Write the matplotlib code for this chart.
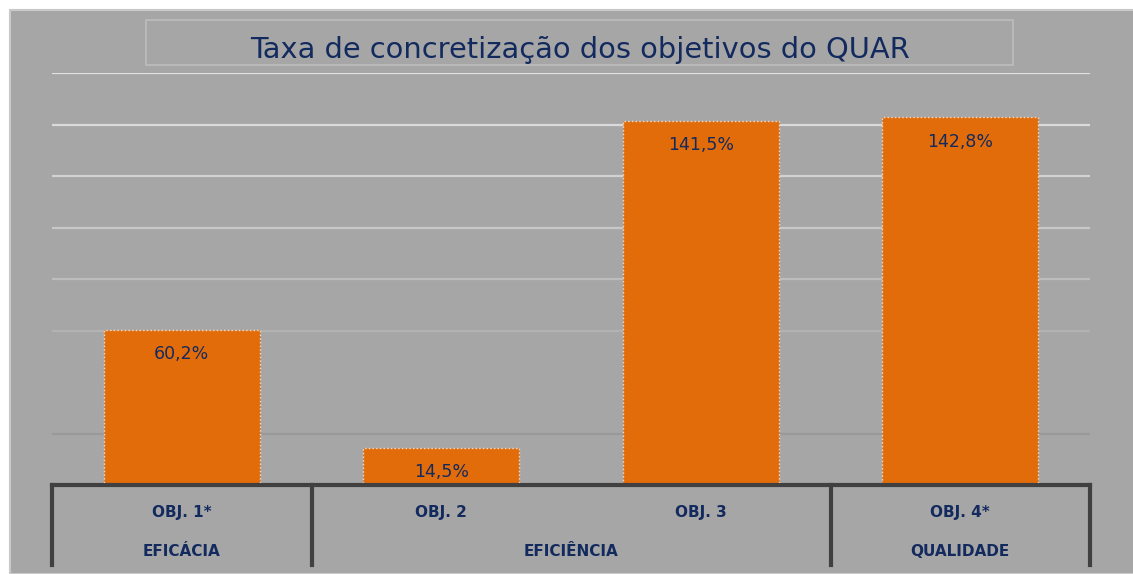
import matplotlib.pyplot as plt
from matplotlib.patches import Rectangle
from matplotlib.transforms import blended_transform_factory

objectives = ["OBJ. 1*", "OBJ. 2", "OBJ. 3", "OBJ. 4*"]
rates = [60.2, 14.5, 141.5, 142.8]
rate_labels = ["60,2%", "14,5%", "141,5%", "142,8%"]
groups = ["EFICÁCIA", "EFICIÊNCIA", "QUALIDADE"]
group_spans = [(0, 0), (1, 2), (3, 3)]
grid_values = [20, 40, 60, 80, 100, 120, 140, 160]
grid_colors = ["#999999", "#a6a6a6", "#b2b2b2", "#bdbdbd", "#c8c8c8", "#d2d2d2", "#dadada", "#e2e2e2"]

NAVY = "#132a5e"
BG = "#a6a6a6"
ORANGE = "#e36c0a"

plt.rcParams["font.family"] = ["DejaVu Sans"]

fig = plt.figure(figsize=(11.33, 5.74), dpi=100)
fig.patch.set_facecolor("white")

# grey panel behind everything
fig.patches.append(Rectangle((10 / 1133, 0), 1, 1 - 10 / 574, transform=fig.transFigure,
                             facecolor=BG, edgecolor="#c9c9c9", linewidth=1.5, zorder=-10))

# title box
fig.patches.append(Rectangle((146 / 1133, 1 - 65 / 574), (1013 - 146) / 1133, 45 / 574,
                             transform=fig.transFigure, facecolor="none",
                             edgecolor="#bdbdbd", linewidth=1.2, zorder=-5))
fig.text(580 / 1133, 1 - 50 / 574, "Taxa de concretização dos objetivos do QUAR",
         ha="center", va="center", fontsize=20.8, color=NAVY)

ax = fig.add_axes([52 / 1133, 1 - 485 / 574, (1090 - 52) / 1133, (485 - 73) / 574])
ax.set_facecolor("none")
ax.set_xlim(-0.5, 3.5)
ax.set_ylim(0, 160)

for v, c in zip(grid_values, grid_colors):
    ax.axhline(v, color=c, linewidth=1.6, zorder=0)

x = range(len(rates))
ax.bar(x, rates, width=0.6, color=ORANGE, edgecolor="#f6dcc6", linewidth=1.0,
       linestyle=":", zorder=2)
for xi, r, lab in zip(x, rates, rate_labels):
    ax.text(xi, r - 9.5, lab, ha="center", va="center", fontsize=12.5, color=NAVY, zorder=3)

for s in ax.spines.values():
    s.set_visible(False)
ax.set_xticks([])
ax.set_yticks([])

tr = blended_transform_factory(ax.transData, ax.transAxes)
line_kw = dict(color="#404040", linewidth=3, clip_on=False, transform=tr,
               solid_capstyle="projecting")
bottom = -0.194
ax.plot([-0.5, 3.5], [0, 0], **line_kw)
for xv in [-0.5, 0.5, 2.5, 3.5]:
    ax.plot([xv, xv], [0, bottom], **line_kw)

for xi, name in zip(x, objectives):
    ax.text(xi, -0.066, name, transform=tr, ha="center", va="center",
            fontsize=11, fontweight="bold", color=NAVY)
for (a, b), g in zip(group_spans, groups):
    ax.text((a + b) / 2, -0.161, g, transform=tr, ha="center", va="center",
            fontsize=11, fontweight="bold", color=NAVY)

fig.savefig("out.png", dpi=100, facecolor=fig.get_facecolor())
